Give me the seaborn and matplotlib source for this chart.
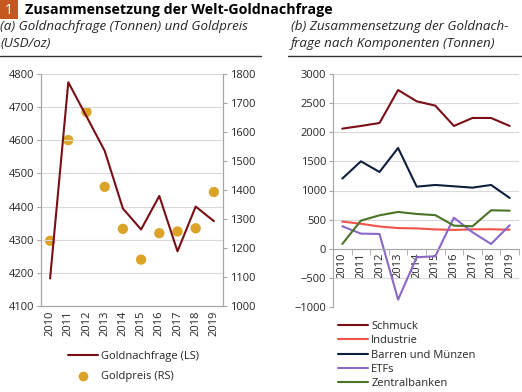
import matplotlib
matplotlib.use("Agg")
import matplotlib.pyplot as plt
from matplotlib.patches import Rectangle
from matplotlib.lines import Line2D
import seaborn as sns
import pandas as pd
import numpy as np

# ---- data ----
years = [2010, 2011, 2012, 2013, 2014, 2015, 2016, 2017, 2018, 2019]
goldnachfrage = [4183, 4775, 4672, 4568, 4394, 4331, 4432, 4265, 4400, 4356]
goldpreis = [1225, 1572, 1669, 1411, 1266, 1160, 1251, 1257, 1268, 1393]

schmuck = [2062, 2108, 2159, 2725, 2531, 2457, 2108, 2245, 2245, 2108]
industrie = [466, 429, 382, 355, 349, 332, 323, 333, 335, 327]
barren = [1204, 1501, 1318, 1730, 1066, 1095, 1072, 1049, 1095, 872]
etfs = [386, 260, 254, -873, -146, -129, 534, 283, 82, 403]
zentralbanken = [82, 483, 574, 632, 597, 577, 397, 386, 660, 654]

series_names = ["Schmuck", "Industrie", "Barren und Münzen", "ETFs", "Zentralbanken"]
series_vals = [schmuck, industrie, barren, etfs, zentralbanken]
series_colors = ["#7A0E17", "#F0534B", "#0D1F3C", "#8B68C6", "#4B7327"]

title = "Zusammensetzung der Welt-Goldnachfrage"
sub_a = "(a) Goldnachfrage (Tonnen) und Goldpreis\n(USD/oz)"
sub_b = "(b) Zusammensetzung der Goldnach-\nfrage nach Komponenten (Tonnen)"

sns.set_style("white")
plt.rcParams['font.family'] = ['Open Sans', 'DejaVu Sans']
plt.rcParams['font.size'] = 8

W, H = 522, 392
fig = plt.figure(figsize=(W / 100, H / 100), dpi=100)

def rect(x0, y0, x1, y1):
    return [x0 / W, 1 - y1 / H, (x1 - x0) / W, (y1 - y0) / H]

grid_c = "#D9D9D9"
spine_c = "#A6A6A6"
text_c = "#262626"

# ---- left chart ----
ax1 = fig.add_axes(rect(41, 74, 223, 306))
df_a = pd.DataFrame({"Jahr": years, "Goldnachfrage": goldnachfrage, "Goldpreis": goldpreis})
sns.lineplot(data=df_a, x="Jahr", y="Goldnachfrage", ax=ax1, color="#7A0E17", lw=1.5,
             legend=False)
ax1.set_ylim(4100, 4800)
ax1.set_yticks(np.arange(4100, 4801, 100))
ax1.set_xlim(2009.5, 2019.5)
ax1.grid(axis="y", color=grid_c, lw=0.8)
ax1.set_axisbelow(True)
ax2 = ax1.twinx()
sns.scatterplot(data=df_a, x="Jahr", y="Goldpreis", ax=ax2, color="#DBA327", s=55,
                edgecolor="none", legend=False, zorder=3)
ax2.set_ylim(1000, 1800)
ax2.set_yticks(np.arange(1000, 1801, 100))
ax1.set_zorder(ax2.get_zorder() + 1)
ax1.patch.set_visible(False)

for ax in (ax1, ax2):
    ax.set_xlabel("")
    ax.set_ylabel("")
    ax.spines["top"].set_visible(False)
    for s in ("left", "right", "bottom"):
        ax.spines[s].set_color(spine_c)
        ax.spines[s].set_linewidth(0.8)
    ax.tick_params(axis="y", length=3, color=spine_c, labelsize=8, labelcolor=text_c, pad=2)

ax1.set_xticks(years)
ax1.set_xticklabels([str(y) for y in years], rotation=90)
ax1.set_xticks(np.arange(2009.5, 2020, 1), minor=True)
ax1.tick_params(axis="x", which="major", length=0, labelsize=8, labelcolor=text_c, pad=3)
ax1.tick_params(axis="x", which="minor", length=4, color=spine_c)
ax1.tick_params(axis="y", left=True)
ax2.tick_params(axis="y", right=True)

# ---- right chart ----
ax3 = fig.add_axes(rect(333, 74, 519, 307))
df_b = pd.DataFrame({"Jahr": [y for s in series_names for y in years],
                     "Komponente": [s for s in series_names for _ in years],
                     "Tonnen": [v for vals in series_vals for v in vals]})
sns.lineplot(data=df_b, x="Jahr", y="Tonnen", hue="Komponente", hue_order=series_names,
             palette=series_colors, ax=ax3, lw=1.5, legend=False)
ax3.set_ylim(-1000, 3000)
ax3.set_yticks(np.arange(-1000, 3001, 500))
ax3.set_xlim(2009.5, 2019.5)
ax3.grid(axis="y", color=grid_c, lw=0.8)
ax3.set_axisbelow(True)
ax3.set_xlabel("")
ax3.set_ylabel("")
for s in ("top", "right"):
    ax3.spines[s].set_visible(False)
ax3.spines["bottom"].set_position(("data", 0))
for s in ("left", "bottom"):
    ax3.spines[s].set_color(spine_c)
    ax3.spines[s].set_linewidth(0.8)
ax3.set_xticks(years)
ax3.set_xticklabels([str(y) for y in years], rotation=90)
ax3.set_xticks(np.arange(2009.5, 2020, 1), minor=True)
ax3.tick_params(axis="x", which="major", length=0, labelsize=8, labelcolor=text_c, pad=3)
ax3.tick_params(axis="x", which="minor", length=4, color=spine_c, bottom=True)
ax3.tick_params(axis="y", length=3, color=spine_c, labelsize=8, labelcolor=text_c, pad=2, left=True)

# ---- legends ----
h_a = [Line2D([], [], color="#7A0E17", lw=1.5),
       Line2D([], [], marker="o", color="#DBA327", ls="none", markersize=7, markeredgewidth=0)]
fig.legend(h_a, ["Goldnachfrage (LS)", "Goldpreis (RS)"], loc="upper left",
           bbox_to_anchor=(68 / W, 1 - 351 / H), frameon=False, fontsize=8,
           handlelength=2.7, handletextpad=0.3, labelspacing=0.85, borderpad=0,
           borderaxespad=0, labelcolor=text_c)
h_b = [Line2D([], [], color=c, lw=1.5) for c in series_colors]
fig.legend(h_b, series_names, loc="upper left",
           bbox_to_anchor=(338 / W, 1 - 321 / H), frameon=False, fontsize=8,
           handlelength=2.7, handletextpad=0.3, labelspacing=0.3, borderpad=0,
           borderaxespad=0, labelcolor=text_c)

# ---- titles ----
fig.patches.append(Rectangle((0, 1 - 19 / H), 18 / W, 19 / H, transform=fig.transFigure,
                             facecolor="#C4581F", edgecolor="none"))
fig.text(9 / W, 1 - 10 / H, "1", color="white", ha="center", va="center", fontsize=10)
fig.text(25 / W, 1 - 10 / H, title, ha="left", va="center", fontsize=10.3,
         fontweight="bold", color="black")
fig.text(0, 1 - 35 / H, sub_a, ha="left", va="center", fontsize=9.6, style="italic",
         color=text_c, linespacing=1.4)
fig.text(291 / W, 1 - 35 / H, sub_b, ha="left", va="center", fontsize=9.6, style="italic",
         color=text_c, linespacing=1.4)
fig.lines.append(Line2D([0, 261 / W], [1 - 56 / H] * 2, transform=fig.transFigure,
                        color="#333333", lw=1))
fig.lines.append(Line2D([288 / W, 1], [1 - 56 / H] * 2, transform=fig.transFigure,
                        color="#333333", lw=1))

fig.savefig("out.png", dpi=100)
